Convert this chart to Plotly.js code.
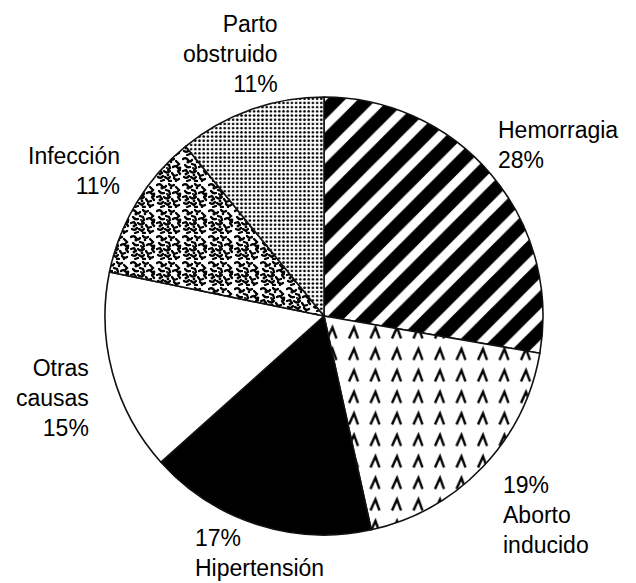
<!DOCTYPE html>
<html>
<head>
<meta charset="utf-8">
<script src="https://cdn.plot.ly/plotly-3.0.1.min.js"></script>
<style>
html,body{margin:0;padding:0;background:#fff;}
#chart{width:636px;height:583px;}
</style>
</head>
<body>
<div id="chart"></div>
<script>
// ---- data ----
var labels = ["Hemorragia", "Aborto inducido", "Hipertensión", "Otras causas", "Infección", "Parto obstruido"];
var labelLines = ["Hemorragia", "Aborto<br>inducido", "Hipertensión", "Otras<br>causas", "Infección", "Parto<br>obstruido"];
var values = [28, 19, 17, 15, 11, 11];
var percentFirst = [false, true, true, false, false, false];

// ---- styling / layout (not data) ----
var W = 636, H = 583;
var cx = 324, cy = 316, R = 219;
var labelPos = [
  {x: 498, y: 145, xa: "left"},
  {x: 503, y: 515, xa: "left"},
  {x: 195, y: 553, xa: "left"},
  {x: 89,  y: 398, xa: "right"},
  {x: 120, y: 171, xa: "right"},
  {x: 278, y: 54,  xa: "right"}
];
var sliceColors = ["white", "white", "black", "white", "#777", "white"];
var patterns = {
  shape: ["/", "", "", "", "", "."],
  size: [22, 8, 8, 8, 8, 4.2],
  solidity: [0.6, 0.2, 0.2, 0.2, 0.2, 0.32],
  fgcolor: "black",
  bgcolor: "white",
  fillmode: "replace"
};

var annotations = labels.map(function (lab, i) {
  var pct = values[i] + "%";
  var txt = percentFirst[i] ? pct + "<br>" + labelLines[i] : labelLines[i] + "<br>" + pct;
  var p = labelPos[i];
  return {
    xref: "paper", yref: "paper",
    x: p.x / W, y: 1 - p.y / H,
    xanchor: p.xa, yanchor: "middle", align: p.xa,
    text: txt, showarrow: false,
    borderpad: 0, borderwidth: 0,
    font: {family: "Liberation Sans, Arial, sans-serif", size: 23, color: "#000"}
  };
});

var trace = {
  type: "pie",
  labels: labels,
  values: values,
  sort: false,
  direction: "clockwise",
  rotation: 0,
  textinfo: "none",
  hoverinfo: "label+percent",
  showlegend: false,
  marker: {
    colors: sliceColors,
    line: {color: "#111", width: 1.6},
    pattern: {
      shape: patterns.shape,
      size: patterns.size,
      solidity: patterns.solidity,
      fgcolor: patterns.fgcolor,
      bgcolor: patterns.bgcolor,
      fillmode: patterns.fillmode
    }
  },
  domain: {
    x: [(cx - R) / W, (cx + R) / W],
    y: [(H - cy - R) / H, (H - cy + R) / H]
  }
};

var layout = {
  width: W, height: H,
  margin: {l: 0, r: 0, t: 0, b: 0},
  paper_bgcolor: "white",
  plot_bgcolor: "white",
  annotations: annotations,
  font: {family: "Liberation Sans, Arial, sans-serif"}
};

Plotly.newPlot("chart", [trace], layout, {staticPlot: true}).then(function (gd) {
  var NS = "http://www.w3.org/2000/svg";
  var defs = gd.querySelector("svg.main-svg defs");
  if (!defs) return;
  function mk(tag, attrs, parent) {
    var el = document.createElementNS(NS, tag);
    for (var k in attrs) el.setAttribute(k, attrs[k]);
    if (parent) parent.appendChild(el);
    return el;
  }
  // chevron pattern for "Aborto inducido"
  var chev = mk("pattern", {id: "chevPat", patternUnits: "userSpaceOnUse", width: 21.5, height: 21.5}, defs);
  mk("rect", {x: 0, y: 0, width: 21.5, height: 21.5, fill: "white"}, chev);
  mk("path", {d: "M5,16 L10,5 L14,16", fill: "none", stroke: "black", "stroke-width": 2.4, "stroke-linejoin": "miter"}, chev);
  // blotchy pattern for "Infección"
  var blot = mk("pattern", {id: "blotPat", patternUnits: "userSpaceOnUse", width: 26, height: 26}, defs);
  mk("rect", {x: 0, y: 0, width: 26, height: 26, fill: "white"}, blot);
  var squig = [
    "M1,3 q3,-2 5,1 t4,0", "M13,2 q2,3 5,1", "M20,5 l3,3 l-2,2", "M3,9 q2,3 5,2",
    "M10,8 l3,1 l1,3 l-2,2", "M17,11 q3,-2 5,1 t2,2", "M1,15 l3,-1 l2,3", "M8,15 q3,3 6,0",
    "M16,17 l2,3 l3,-1", "M22,15 l2,3", "M2,21 q3,2 5,-1", "M9,21 l3,2 l2,-2", "M18,22 q2,3 5,1",
    "M5,25 l3,-1", "M13,25 l2,0"
  ];
  squig.forEach(function (d) {
    mk("path", {d: d, fill: "none", stroke: "black", "stroke-width": 2.3, "stroke-linecap": "round"}, blot);
  });
  var blobs = [[6,6,1.6],[15,6,1.3],[24,12,1.4],[4,18,1.5],[12,19,1.4],[20,25,1.2],[11,12,1.1]];
  blobs.forEach(function (b) { mk("circle", {cx: b[0], cy: b[1], r: b[2], fill: "black"}, blot); });

  var custom = {1: "chevPat", 4: "blotPat"};
  var paths = gd.querySelectorAll("g.slice path.surface");
  paths.forEach(function (p, i) {
    if (custom[i]) p.style.fill = "url(#" + custom[i] + ")";
  });
});
</script>
</body>
</html>
